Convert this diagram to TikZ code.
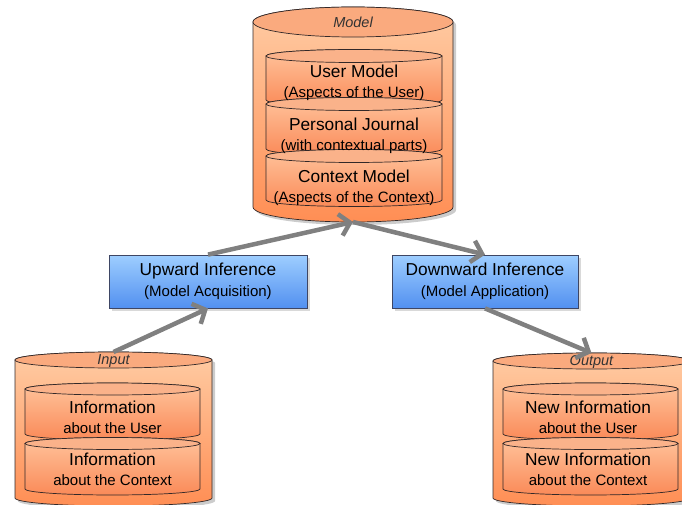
\documentclass[tikz,border=0pt]{standalone}
\usepackage{fontspec}
\setmainfont{Liberation Sans}
\usepackage{tikz}
\usetikzlibrary{arrows.meta,shadows}
\definecolor{bigtopfill}{RGB}{250,170,126}
\definecolor{bigupper}{RGB}{255,204,164}
\definecolor{biglower}{RGB}{255,142,84}
\definecolor{smalltopfill}{RGB}{250,178,138}
\definecolor{smallupper}{RGB}{255,196,156}
\definecolor{smalllower}{RGB}{250,138,88}
\definecolor{boxupper}{RGB}{158,206,255}
\definecolor{boxlower}{RGB}{82,144,240}
\definecolor{boxedge}{RGB}{62,70,100}
\definecolor{arrowgray}{RGB}{128,128,128}
\definecolor{drumedge}{RGB}{50,40,40}
\def\drum[#1](#2,#3)(#4:#5:#6){%
  \path[#1 shade] ({#2-#4+3},{#3-3}) -- ({#2-#4+3},{#5-3}) arc[start angle=180,end angle=360,x radius=#4,y radius=#6] -- ({#2+#4+3},{#3-3}) arc[start angle=0,end angle=180,x radius=#4,y radius=#6] -- cycle;
  \shade[#1 body] ({#2-#4},#3) -- ({#2-#4},#5) arc[start angle=180,end angle=360,x radius=#4,y radius=#6] -- ({#2+#4},#3) arc[start angle=0,end angle=180,x radius=#4,y radius=#6] -- cycle;
  \draw[#1 top] (#2,#3) ellipse [x radius=#4,y radius=#6];
}
\def\hd#1{{\fontsize{17.3}{20}\selectfont #1}}

\begin{document}
\begin{tikzpicture}[x=1pt,y=1pt,
    big shade/.style={fill=black,fill opacity=0.2},
    big body/.style={draw=drumedge,line width=0.7pt,top color=bigupper,bottom color=biglower},
    big top/.style={draw=drumedge,line width=0.7pt,fill=bigtopfill},
    small shade/.style={},
    small body/.style={draw=drumedge,line width=0.7pt,top color=smallupper,bottom color=smalllower},
    small top/.style={draw=drumedge,line width=0.7pt,fill=smalltopfill},
    span/.style={inner sep=0pt,outer sep=0pt},
    drumtext/.style={align=center,font=\fontsize{15}{20}\selectfont},
    drumlabel/.style={font=\fontsize{14.5}{16}\selectfont\itshape,text=black!80},
    infbox/.style={draw=boxedge,line width=0.8pt,top color=boxupper,bottom color=boxlower,
      drop shadow={shadow xshift=3pt,shadow yshift=-3pt,opacity=0.3},
      align=center,inner sep=0pt,font=\fontsize{15}{21}\selectfont},
    flow/.style={draw=arrowgray,line width=4.5pt,-{Straight Barb[length=10pt,width=22pt]}}]
  \useasboundingbox (0,0) rectangle (682,504);

  %%%%% MODEL %%%%%
  \drum[big](353,482)(100:297:15);
  \drum[small](354,448)(88:404:6.5);
  \drum[small](354,400)(88:355:6.5);
  \drum[small](354,348)(88:304:6.5);
  \node[span,minimum width=200pt,minimum height=215pt] (model) at (353,389.5) {};
  \node[drumlabel] (modellbl) at (353,482) {Model};
  \node[drumtext] (usermodel) at (354,421) {\hd{User Model}\\(Aspects of the User)};
  \node[drumtext] (journal) at (354,368) {\hd{Personal Journal}\\(with contextual parts)};
  \node[drumtext] (ctxmodel) at (354,316) {\hd{Context Model}\\(Aspects of the Context)};

  %%%%% INPUT %%%%%
  \drum[big](113.5,144)(98.5:6:8);
  \drum[small](112.5,115)(87.5:70:6);
  \drum[small](112.5,60.5)(87.5:15:6);
  \node[span,minimum width=197pt,minimum height=154pt] (input) at (113.5,75) {};
  \node[drumlabel] (inputlbl) at (113.5,143) {Input};
  \node[drumtext] (inuser) at (112.5,87) {\hd{Information}\\about the User};
  \node[drumtext] (inctx) at (112.5,34.5) {\hd{Information}\\about the Context};

  %%%%% OUTPUT %%%%%
  \drum[big](591.5,143)(98.5:6:8);
  \drum[small](590.5,115)(87.5:70:6);
  \drum[small](590.5,60.5)(87.5:15:6);
  \node[span,minimum width=197pt,minimum height=153pt] (output) at (591.5,74.5) {};
  \node[drumlabel] (outputlbl) at (591.5,142) {Output};
  \node[drumtext] (outuser) at (588,87) {\hd{New Information}\\about the User};
  \node[drumtext] (outctx) at (588,34.5) {\hd{New Information}\\about the Context};

  %%%%% INFERENCE %%%%%
  \node[infbox,minimum width=198pt,minimum height=53pt] (upbox) at (208,222.5) {\hd{Upward Inference}\\(Model Acquisition)};
  \node[infbox,minimum width=186pt,minimum height=53pt] (downbox) at (485,222.5) {\hd{Downward Inference}\\(Model Application)};

  \draw[flow] (input.north) -- (upbox.south);
  \draw[flow] (upbox.north) -- (model.south);
  \draw[flow] (model.south) -- (downbox.north);
  \draw[flow] (downbox.south) -- (output.north);
\end{tikzpicture}
\end{document}
